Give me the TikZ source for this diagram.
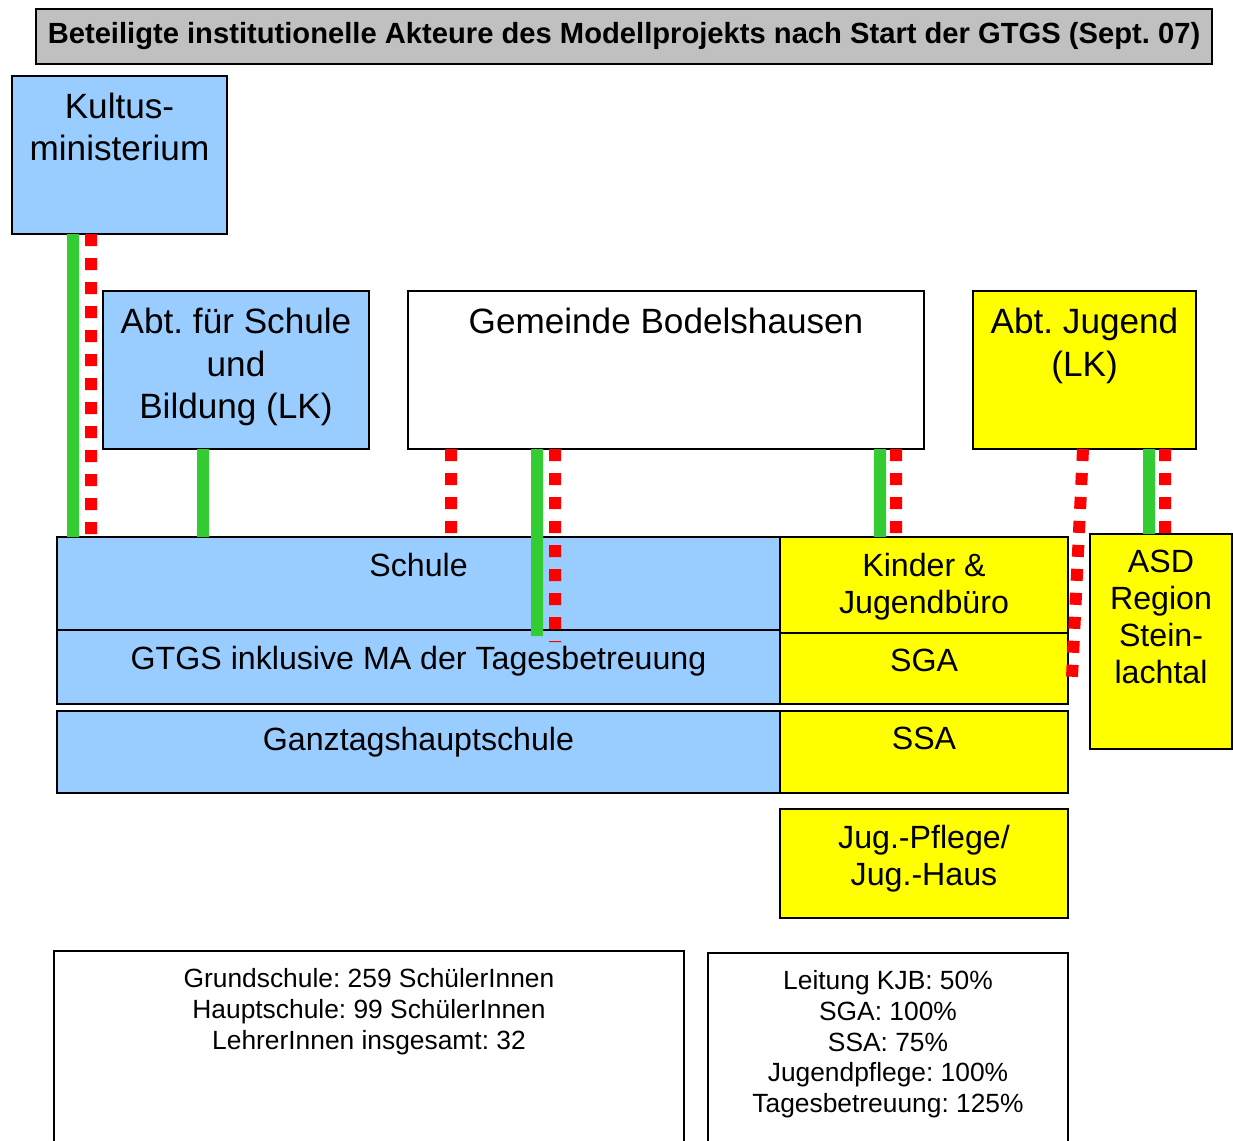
\documentclass[tikz,border=0pt]{standalone}
\usepackage{fontspec}
\setmainfont{Liberation Sans}
\frenchspacing
\usetikzlibrary{positioning}
\definecolor{hellblau}{HTML}{99CCFF}
\definecolor{gelbfeld}{HTML}{FFFF00}
\definecolor{grau}{HTML}{C0C0C0}
\definecolor{gruen}{HTML}{33CC33}
\definecolor{rotlinie}{HTML}{FF0000}

\begin{document}
\begin{tikzpicture}[
  box/.style={draw=black,line width=1.2pt,anchor=north west,inner sep=0pt,outer sep=0pt},
  blau/.style={box,fill=hellblau},
  gelb/.style={box,fill=gelbfeld},
  beschriftung/.style={anchor=north,align=center,inner sep=0pt},
  kopf/.style={beschriftung,yshift=-0.34cm,font=\fontsize{20}{24}\selectfont},
  kopfklein/.style={beschriftung,yshift=-0.31cm,font=\fontsize{18.3}{21}\selectfont},
  info/.style={beschriftung,yshift=-0.35cm,font=\fontsize{15}{17.4}\selectfont},
  dienst/.style={draw=gruen,line width=0.24cm},
  fach/.style={draw=rotlinie,line width=0.24cm,dash pattern=on 0.24cm off 0.24cm}]
\useasboundingbox (0,0) rectangle (24.66,-22.8);

% Titel
\node[box,fill=grau,minimum width=23.52cm,minimum height=1.10cm,font=\bfseries\fontsize{16.6}{19}\selectfont] (titel) at (0.72,-0.18) {Beteiligte institutionelle Akteure des Modellprojekts nach Start der GTGS (Sept. 07)};

% obere Ebene
\node[blau,minimum width=4.30cm,minimum height=3.16cm,label={[kopf]north:{Kultus-\\ministerium}}] (kultus) at (0.24,-1.52) {};
\node[blau,minimum width=5.32cm,minimum height=3.16cm,label={[kopf]north:{Abt. für Schule\\und\\Bildung (LK)}}] (abtschule) at (2.06,-5.82) {};
\node[box,fill=white,minimum width=10.32cm,minimum height=3.16cm,label={[kopf]north:{Gemeinde Bodelshausen}}] (gemeinde) at (8.16,-5.82) {};
\node[gelb,minimum width=4.46cm,minimum height=3.16cm,label={[kopf]north:{Abt. Jugend\\(LK)}}] (abtjugend) at (19.46,-5.82) {};

% Schule
\node[blau,minimum width=14.46cm,minimum height=1.86cm,label={[kopfklein]north:{Schule}}] (schule) at (1.14,-10.74) {};
\node[blau,minimum width=14.46cm,minimum height=1.48cm,label={[kopfklein]north:{GTGS inklusive MA der Tagesbetreuung}}] (gtgs) at (1.14,-12.60) {};
\node[blau,minimum width=14.46cm,minimum height=1.64cm,label={[kopfklein]north:{Ganztagshauptschule}}] (hauptschule) at (1.14,-14.22) {};

% Jugendhilfe
\node[gelb,minimum width=5.76cm,minimum height=1.92cm,label={[kopfklein]north:{Kinder \&\\Jugendbüro}}] (kjb) at (15.60,-10.74) {};
\node[gelb,minimum width=5.76cm,minimum height=1.42cm,label={[kopfklein]north:{SGA}}] (sga) at (15.60,-12.66) {};
\node[gelb,minimum width=5.76cm,minimum height=1.64cm,label={[kopfklein]north:{SSA}}] (ssa) at (15.60,-14.22) {};
\node[gelb,minimum width=5.76cm,minimum height=2.18cm,label={[kopfklein]north:{Jug.-Pflege/\\Jug.-Haus}}] (jugpflege) at (15.60,-16.18) {};
\node[gelb,minimum width=2.84cm,minimum height=4.30cm,label={[kopfklein]north:{ASD\\Region\\Stein-\\lachtal}}] (asd) at (21.80,-10.68) {};

% Zahlen
\node[box,minimum width=12.60cm,minimum height=3.98cm,label={[info]north:{Grundschule: 259 SchülerInnen\\Hauptschule: 99 SchülerInnen\\LehrerInnen insgesamt: 32}}] (zahlenschule) at (1.08,-19.02) {};
\node[box,minimum width=7.20cm,minimum height=3.94cm,label={[info]north:{Leitung KJB: 50\%\\SGA: 100\%\\SSA: 75\%\\Jugendpflege: 100\%\\Tagesbetreuung: 125\%}}] (zahlenstellen) at (14.16,-19.06) {};

% Verbindungen
\draw[dienst] ([xshift=1.22cm]kultus.south west)--([xshift=0.32cm]schule.north west);
\draw[fach] ([xshift=1.58cm]kultus.south west)--([xshift=0.68cm]schule.north west);
\draw[dienst] ([xshift=-0.66cm]abtschule.south)--([xshift=2.92cm]schule.north west);
\draw[fach] ([xshift=0.86cm]gemeinde.south west)--([xshift=7.88cm]schule.north west);
\draw[dienst] ([xshift=2.58cm]gemeinde.south west)--([xshift=9.60cm,yshift=-0.12cm]gtgs.north west);
\draw[fach] ([xshift=2.94cm]gemeinde.south west)--([xshift=9.96cm,yshift=-0.24cm]gtgs.north west);
\draw[dienst] ([xshift=-0.88cm]gemeinde.south east)--([xshift=2.00cm]kjb.north west);
\draw[fach] ([xshift=-0.56cm]gemeinde.south east)--([xshift=2.32cm]kjb.north west);
\draw[fach] ([xshift=2.20cm]abtjugend.south west)--([xshift=0.08cm,yshift=-0.17cm]sga.east);
\draw[dienst] ([xshift=3.52cm]abtjugend.south west)--([xshift=1.18cm]asd.north west);
\draw[fach] ([xshift=3.84cm]abtjugend.south west)--([xshift=1.50cm]asd.north west);
\end{tikzpicture}
\end{document}
